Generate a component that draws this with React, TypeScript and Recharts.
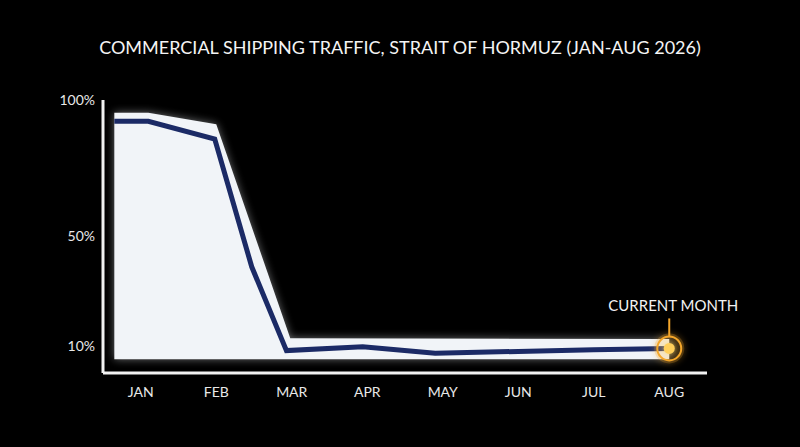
import React from 'react';
import {
  ComposedChart,
  Area,
  Line,
  XAxis,
  YAxis,
  ReferenceDot,
} from 'recharts';

const months = ['JAN', 'FEB', 'MAR', 'APR', 'MAY', 'JUN', 'JUL', 'AUG'];
const monthTicks = [0, 1, 2, 3, 4, 5, 6, 7];
const yTicks = [10, 50, 100];

// Navy line: traffic share (%), placed at month positions (fractional where between months)
const lineX = [-0.35, 0.1, 0.98, 1.47, 1.93, 2.94, 3.9, 5, 6, 7];
const lineY = [92.2, 92.2, 85.7, 38.9, 8.2, 9.6, 7.2, 7.9, 8.5, 9.0];

// Light band behind the line
const areaX = [-0.35, 0.1, 1.0, 1.98, 7];
const areaTop = [95.3, 95.3, 91.1, 12.7, 12.5];
const areaBottom = [5, 5, 5, 5, 5];

const currentIndex = 7;

type Row = { x: number; line: number | null; range: [number, number] | null };

function buildRows(): Row[] {
  const map = new Map<number, Row>();
  lineX.forEach((x, i) => {
    const r = map.get(x) || { x, line: null, range: null };
    r.line = lineY[i];
    map.set(x, r);
  });
  areaX.forEach((x, i) => {
    const r = map.get(x) || { x, line: null, range: null };
    r.range = [areaBottom[i], areaTop[i]];
    map.set(x, r);
  });
  return Array.from(map.values()).sort((a, b) => a.x - b.x);
}

const data = buildRows();
const FONT = 'Lato, "Open Sans", sans-serif';

const CurrentMarker = (props: any) => {
  const { cx, cy } = props;
  if (cx == null || cy == null) return null;
  return (
    <g>
      <circle cx={cx} cy={cy} r={13} fill="none" stroke="#f7a92a" strokeWidth={4} opacity={0.35} filter="url(#orangeGlow)" />
      <circle cx={cx} cy={cy} r={12} fill="rgba(255,190,80,0.12)" stroke="#f4a62a" strokeWidth={2} />
      <circle cx={cx} cy={cy} r={5.5} fill="#ffcf5a" filter="url(#orangeGlow)" />
      <line x1={cx} y1={cy - 12} x2={cx} y2={cy - 30} stroke="#f4a62a" strokeWidth={2} />
      <text
        x={cx + 4}
        y={cy - 37}
        textAnchor="middle"
        fill="#f2f2f2"
        fontSize={15}
        fontFamily={FONT}
      >
        CURRENT MONTH
      </text>
    </g>
  );
};

export default function App() {
  return (
    <div
      style={{
        position: 'fixed',
        left: 0,
        top: 0,
        width: 800,
        height: 447,
        background: '#000',
        overflow: 'hidden',
      }}
    >
      <div
        style={{
          position: 'absolute',
          top: 36,
          left: 0,
          width: 800,
          textAlign: 'center',
          color: '#f4f4f4',
          fontFamily: FONT,
          fontSize: 18,
          letterSpacing: 0,
        }}
      >
        COMMERCIAL SHIPPING TRAFFIC, STRAIT OF HORMUZ (JAN-AUG 2026)
      </div>
      <ComposedChart
        width={800}
        height={447}
        data={data}
        margin={{ top: 100, right: 93, bottom: 44, left: 43 }}
        style={{ position: 'absolute', left: 0, top: 0 }}
      >
        <defs>
          <filter id="softGlow" x="-20%" y="-20%" width="140%" height="140%">
            <feGaussianBlur in="SourceGraphic" stdDeviation="4" result="blur" />
            <feComponentTransfer in="blur" result="dim">
              <feFuncA type="linear" slope="0.45" />
            </feComponentTransfer>
            <feMerge>
              <feMergeNode in="dim" />
              <feMergeNode in="SourceGraphic" />
            </feMerge>
          </filter>
          <filter id="orangeGlow" x="-100%" y="-100%" width="300%" height="300%">
            <feGaussianBlur in="SourceGraphic" stdDeviation="3" result="blur" />
            <feMerge>
              <feMergeNode in="blur" />
              <feMergeNode in="SourceGraphic" />
            </feMerge>
          </filter>
        </defs>
        <XAxis
          dataKey="x"
          type="number"
          domain={[-0.5, 7.5]}
          ticks={monthTicks}
          tickFormatter={(v: number) => months[v] ?? ''}
          axisLine={{ stroke: '#f2f2f2', strokeWidth: 3 }}
          tickLine={false}
          tickMargin={8}
          height={30}
          tick={{ fill: '#e8e8e8', fontSize: 14, fontFamily: FONT }}
          allowDataOverflow
        />
        <YAxis
          type="number"
          domain={[0, 100]}
          ticks={yTicks}
          tickFormatter={(v: number) => `${v}%`}
          axisLine={{ stroke: '#f2f2f2', strokeWidth: 3 }}
          tickLine={false}
          tickMargin={2}
          width={60}
          tick={{ fill: '#e8e8e8', fontSize: 14, fontFamily: FONT }}
        />
        <Area
          dataKey="range"
          type="linear"
          stroke="none"
          fill="#f1f4f8"
          fillOpacity={1}
          connectNulls
          isAnimationActive={false}
          style={{ filter: 'url(#softGlow)' }}
        />
        <Line
          dataKey="line"
          type="linear"
          stroke="#1b2a66"
          strokeWidth={5}
          dot={false}
          connectNulls
          isAnimationActive={false}
        />
        <ReferenceDot
          x={currentIndex}
          y={lineY[lineY.length - 1]}
          r={12}
          shape={CurrentMarker}
        />
      </ComposedChart>
    </div>
  );
}
